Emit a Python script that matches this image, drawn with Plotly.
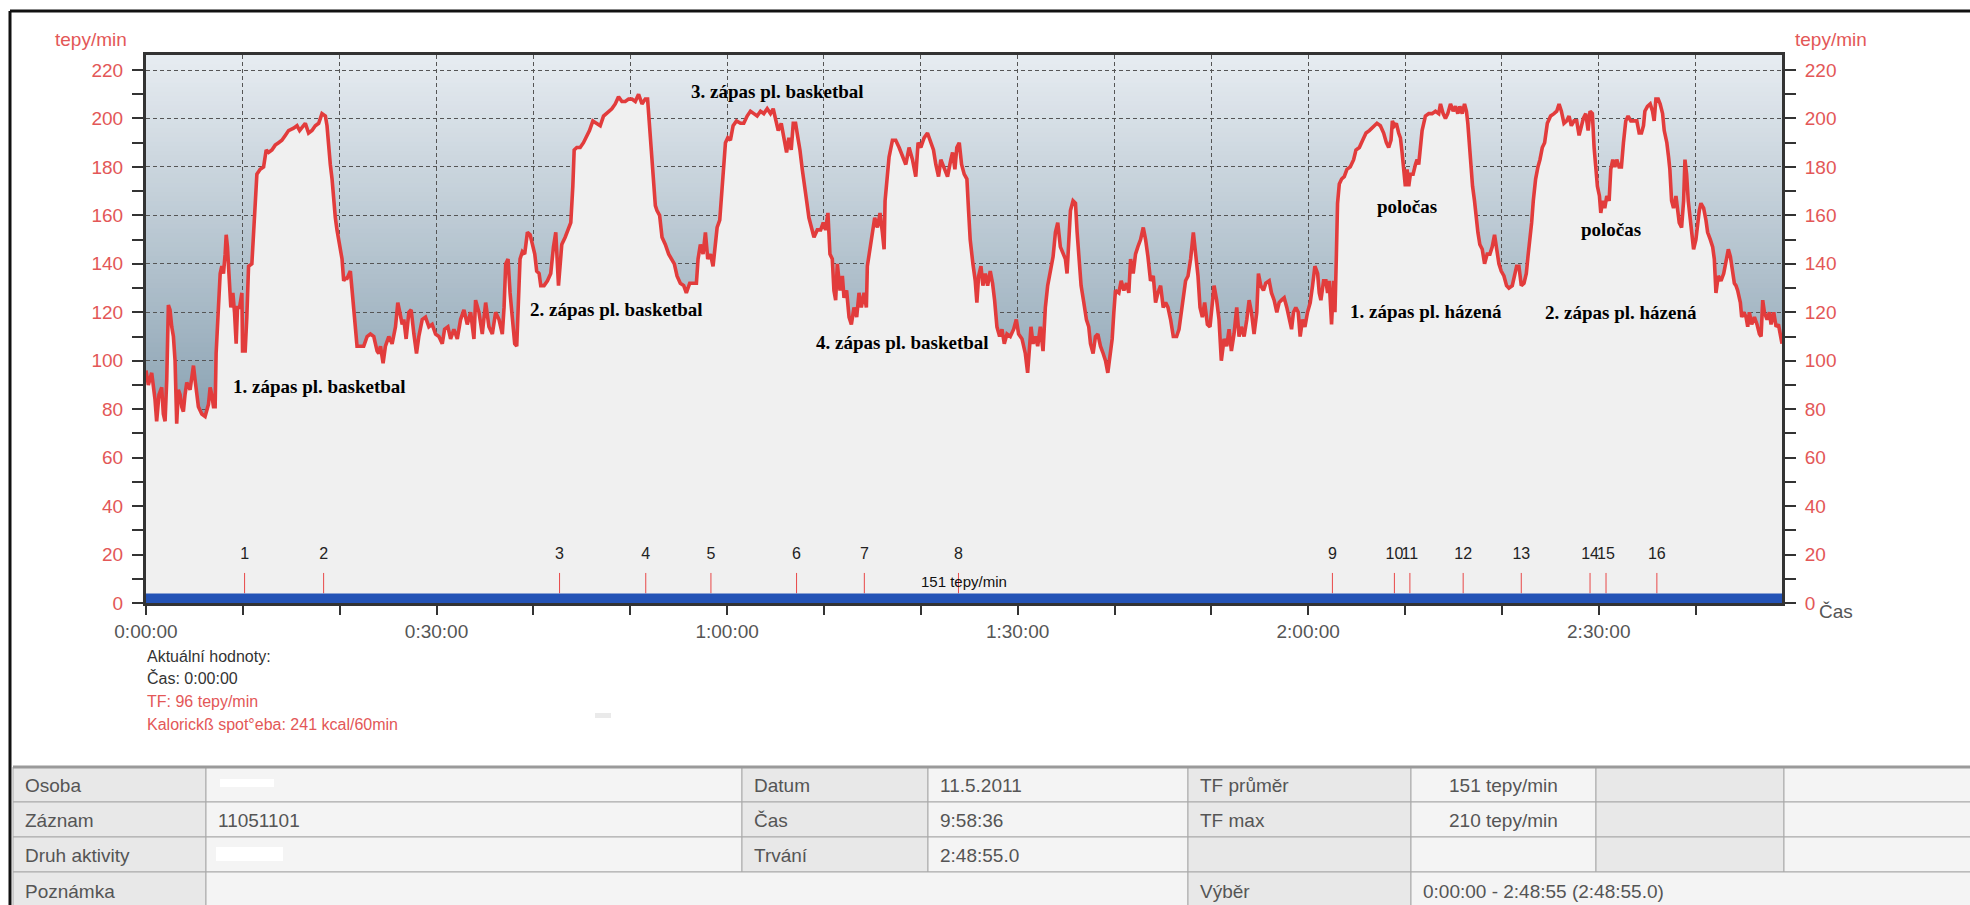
import plotly.graph_objects as go

# ---------------------------------------------------------------- data
# Heart rate record: minute offset from start and beats per minute
minutes = [
    0.0, 0.24, 0.59, 0.93, 1.10, 1.34, 1.62, 1.79, 1.97, 2.14, 2.31, 2.48, 2.66, 2.83, 3.00, 3.17, 3.34, 3.52, 3.69, 3.86,
    4.03, 4.21, 4.55, 4.90, 5.07, 5.24, 5.41, 5.76, 6.10, 6.45, 6.62, 6.79, 6.97, 7.14, 7.24, 7.48, 7.66, 7.83, 8.00, 8.17,
    8.28, 8.41, 8.59, 8.76, 8.97, 9.14, 9.31, 9.45, 9.66, 9.90, 9.97, 10.24, 10.41, 10.59, 10.93, 11.10, 11.28, 11.45, 11.79, 12.14,
    12.41, 12.66, 13.00, 13.34, 13.69, 14.03, 14.38, 14.72, 15.24, 15.59, 15.86, 16.10, 16.45, 16.79, 17.14, 17.48, 17.83, 18.17, 18.52, 18.69,
    18.86, 19.03, 19.21, 19.38, 19.55, 19.72, 19.90, 20.07, 20.24, 20.41, 20.59, 20.76, 20.93, 21.10, 21.28, 21.45, 21.62, 21.79, 22.14, 22.48,
    22.83, 23.17, 23.52, 23.86, 24.03, 24.21, 24.48, 24.72, 25.07, 25.41, 25.76, 26.00, 26.21, 26.45, 26.62, 26.86, 27.14, 27.38, 27.66, 27.93,
    28.17, 28.52, 28.86, 29.21, 29.55, 29.90, 30.24, 30.59, 30.83, 31.17, 31.45, 31.79, 32.14, 32.48, 32.83, 33.17, 33.52, 33.86, 34.03, 34.38,
    34.72, 35.07, 35.41, 35.76, 36.10, 36.45, 36.79, 36.97, 37.14, 37.38, 37.59, 37.83, 38.07, 38.28, 38.45, 38.62, 38.86, 39.10, 39.38, 39.66,
    39.90, 40.14, 40.34, 40.59, 40.76, 41.10, 41.45, 41.79, 42.07, 42.31,
    42.59, 42.93, 43.28, 43.62, 43.86, 44.07, 44.21, 44.48, 44.83, 45.17, 45.45, 45.79, 46.14, 46.55, 46.90, 47.24, 47.76, 48.10, 48.45, 48.79,
    49.14, 49.48, 49.83, 50.17, 50.52, 50.86, 51.21, 51.55, 51.79, 52.00, 52.17, 52.41, 52.59, 52.76, 53.03, 53.28, 53.62, 53.97, 54.31, 54.55,
    54.83, 55.17, 55.52, 55.79, 56.14, 56.48, 56.83, 57.00, 57.24, 57.52, 57.76, 58.00, 58.28, 58.55, 58.79, 58.97, 59.24, 59.48, 59.66, 59.83,
    60.07, 60.34, 60.62, 60.97, 61.38, 61.72, 62.07, 62.41, 62.76, 63.10, 63.45, 63.79, 64.14, 64.48, 64.76, 65.00, 65.28, 65.59, 65.86, 66.14,
    66.38, 66.62, 66.83, 67.07, 67.31, 67.52, 67.76, 68.00, 68.21, 68.45, 68.79, 68.97, 69.31, 69.66, 69.93, 70.17, 70.41, 70.62, 70.86, 71.03,
    71.21, 71.38, 71.66, 71.90, 72.07, 72.34, 72.59, 72.83, 73.10, 73.38, 73.62, 73.86, 74.14, 74.38, 74.48, 74.76, 75.00, 75.24, 75.52, 75.79,
    76.03, 76.21, 76.31, 76.48, 76.72, 77.07, 77.41, 77.76, 78.10, 78.45, 78.79, 79.14, 79.48, 79.72, 80.00, 80.34, 80.69, 80.97, 81.31, 81.55,
    81.83, 82.07, 82.41, 82.76, 83.10, 83.28, 83.52, 83.72, 83.97, 84.21, 84.48, 84.76,
    84.93, 85.10, 85.38, 85.62, 85.79, 85.97, 86.21, 86.41, 86.66, 86.90, 87.17, 87.41, 87.62, 87.86, 88.14, 88.38, 88.62, 88.90, 89.24, 89.59,
    89.86, 90.10, 90.45, 90.79, 91.03, 91.24, 91.38, 91.59, 91.83, 92.07, 92.34, 92.62, 92.86, 93.10, 93.38, 93.66, 93.90, 94.14, 94.41, 94.69,
    94.93, 95.10, 95.28, 95.45, 95.72, 95.97, 96.14, 96.31, 96.55, 96.83, 97.10, 97.34, 97.52, 97.79, 98.03, 98.28, 98.55, 98.83, 99.07, 99.31,
    99.52, 99.76, 99.93, 100.10, 100.45, 100.69, 100.97, 101.24, 101.48, 101.66, 101.93, 102.17, 102.41, 102.69, 102.97, 103.21, 103.45, 103.72, 104.00, 104.24,
    104.48, 104.76, 105.03, 105.28, 105.52, 105.79, 106.07, 106.41, 106.66, 106.90, 107.10, 107.34, 107.59, 107.86, 108.14, 108.38, 108.62, 108.83, 109.07, 109.31,
    109.59, 109.86, 110.10, 110.28, 110.55, 110.79, 111.03, 111.31, 111.59, 111.83, 112.07, 112.34, 112.62, 112.86, 113.10, 113.38, 113.66, 113.90, 114.14, 114.41,
    114.69, 114.86, 115.10, 115.38, 115.62, 115.97, 116.21, 116.48, 116.76, 117.00, 117.24, 117.52, 117.79, 118.03, 118.28, 118.48, 118.72, 118.97, 119.17, 119.41,
    119.66, 119.93, 120.21, 120.45, 120.69, 120.97, 121.14, 121.31, 121.59, 121.83, 122.00, 122.17, 122.41, 122.62, 122.76, 122.90, 123.03, 123.21, 123.45, 123.72,
    124.00, 124.34, 124.69, 124.93, 125.28, 125.62, 125.97, 126.31,
    126.76, 127.10, 127.45, 127.79, 128.07, 128.31, 128.55, 128.69, 128.90, 129.10, 129.34, 129.52, 129.69, 129.86, 130.03, 130.21, 130.38, 130.55, 130.83, 131.07,
    131.24, 131.41, 131.59, 131.76, 131.93, 132.10, 132.45, 132.79, 133.14, 133.48, 133.66, 133.93, 134.17, 134.41, 134.69, 134.97, 135.21, 135.45, 135.66, 135.90,
    136.14, 136.34, 136.48, 136.66, 136.83, 136.97, 137.17, 137.34, 137.52, 137.72, 137.97, 138.21, 138.48, 138.76, 139.00, 139.24, 139.45, 139.69, 139.93, 140.21,
    140.48, 140.72, 141.07, 141.31, 141.52, 141.76, 142.00, 142.28, 142.52, 142.69, 142.90, 143.07, 143.24, 143.48, 143.72, 143.93, 144.17, 144.41, 144.69, 145.03,
    145.38, 145.66, 145.90, 146.14, 146.41, 146.69, 146.93, 147.17, 147.45, 147.72, 147.97, 148.21, 148.41, 148.66, 148.90, 149.10, 149.34, 149.52, 149.69, 149.86,
    150.07, 150.21, 150.41, 150.62, 150.83, 151.07, 151.24, 151.45, 151.66, 151.86, 152.10, 152.34, 152.55, 152.79, 153.03, 153.31, 153.66, 153.93, 154.17, 154.41,
    154.62, 154.76, 155.03, 155.31, 155.55, 155.72, 155.90, 156.14, 156.34, 156.59, 156.76, 157.03, 157.21, 157.34, 157.52, 157.72, 157.97, 158.14, 158.31, 158.55,
    158.76, 158.90, 159.07, 159.24, 159.45, 159.62, 159.79, 160.03, 160.21, 160.38, 160.55, 160.83, 161.07, 161.24, 161.52, 161.76, 161.93, 162.10, 162.34, 162.62,
    162.90, 163.14, 163.38, 163.59, 163.83, 164.00, 164.17, 164.34, 164.62, 164.76, 164.97, 165.21, 165.38, 165.55, 165.79, 166.07, 166.34, 166.59, 166.76, 166.93,
    167.10, 167.38, 167.62, 167.79, 168.07, 168.31, 168.55, 168.76, 168.92,
]
bpm = [
    96, 90, 95, 84, 75, 86, 89, 78, 75, 92, 123, 121, 114, 110, 100, 74, 88, 86, 81, 79,
    86, 91, 88, 98, 92, 86, 81, 78, 77, 82, 89, 86, 81, 81, 103, 122, 136, 139, 136, 144,
    152, 147, 133, 122, 128, 120, 107, 122, 122, 128, 104, 104, 118, 139, 140, 153, 166, 177, 179, 180,
    187, 186, 187, 189, 190, 191, 193, 195, 196, 197, 195, 196, 198, 194, 195, 197, 198, 202, 201, 197,
    188, 181, 175, 166, 159, 154, 150, 146, 142, 133, 134, 134, 136, 137, 129, 121, 117, 106, 106, 106,
    110, 111, 110, 104, 103, 106, 99, 106, 110, 107, 114, 124, 120, 115, 117, 109, 120, 121, 111, 103,
    110, 117, 118, 114, 115, 111, 110, 107, 113, 114, 109, 113, 109, 117, 121, 115, 120, 109, 125, 120,
    111, 124, 114, 111, 120, 117, 111, 122, 140, 142, 128, 115, 107, 106, 122, 142, 145, 144, 153, 152,
    148, 144, 137, 136, 131, 131, 133, 136, 147, 153,
    131, 148, 151, 154, 157, 172, 187, 188, 188, 190, 192, 195, 199, 198, 197, 201, 203, 204, 206, 209,
    207, 207, 208, 208, 207, 210, 206, 208, 208, 197, 187, 177, 164, 162, 160, 151, 148, 144, 142, 140,
    135, 132, 131, 128, 132, 132, 132, 142, 148, 144, 153, 142, 144, 139, 147, 155, 158, 170, 183, 190,
    192, 191, 197, 199, 198, 198, 201, 203, 202, 201, 203, 202, 204, 202, 204, 199, 195, 198, 191, 186,
    192, 187, 198, 198, 192, 187, 179, 173, 166, 159, 154, 151, 154, 154, 157, 154, 161, 144, 142, 129,
    125, 140, 129, 135, 126, 129, 118, 115, 122, 118, 128, 122, 128, 122, 139, 147, 153, 159, 155, 161,
    153, 146, 166, 175, 184, 191, 191, 188, 184, 181, 188, 183, 176, 190, 188, 192, 194, 191, 187, 181,
    176, 183, 179, 176, 183, 186, 179, 188, 190, 181, 177, 175,
    162, 150, 140, 133, 124, 135, 139, 131, 136, 131, 137, 132, 125, 114, 110, 113, 107, 111, 110, 113,
    117, 111, 109, 103, 95, 106, 114, 107, 110, 106, 114, 104, 122, 131, 137, 143, 153, 157, 147, 144,
    142, 136, 150, 162, 166, 165, 153, 142, 131, 124, 117, 114, 107, 103, 110, 111, 106, 103, 100, 95,
    103, 109, 120, 129, 128, 133, 129, 132, 128, 142, 136, 144, 147, 150, 155, 150, 143, 133, 135, 124,
    128, 131, 122, 124, 122, 117, 110, 110, 113, 120, 125, 133, 135, 142, 153, 144, 135, 122, 118, 124,
    115, 114, 122, 131, 125, 117, 100, 109, 106, 113, 104, 111, 122, 110, 114, 110, 117, 125, 120, 111,
    120, 136, 131, 129, 132, 133, 128, 125, 120, 124, 125, 126, 122, 118, 113, 120, 122, 120, 110, 117,
    114, 120, 124, 131, 139, 136, 128, 125, 133, 133, 128, 133, 115, 133, 120, 142, 165, 173, 175, 176,
    179, 180, 183, 187, 188, 191, 194, 195,
    197, 198, 197, 194, 190, 188, 191, 199, 197, 198, 194, 192, 186, 179, 172, 179, 172, 177, 177, 181,
    183, 181, 190, 195, 198, 201, 202, 202, 203, 202, 206, 202, 200, 202, 206, 203, 205, 202, 205, 202,
    206, 203, 198, 188, 179, 172, 166, 158, 153, 148, 146, 140, 144, 144, 147, 152, 147, 140, 137, 135,
    131, 130, 131, 135, 139, 139, 131, 132, 136, 143, 150, 157, 166, 175, 180, 183, 188, 190, 198, 201,
    202, 203, 206, 203, 198, 199, 201, 197, 199, 199, 193, 197, 200, 202, 195, 203, 202, 188, 179, 172,
    168, 161, 166, 163, 168, 166, 179, 183, 180, 183, 180, 180, 190, 199, 201, 199, 199, 199, 194, 194,
    197, 203, 205, 206, 203, 199, 208, 208, 206, 202, 195, 190, 184, 179, 166, 163, 168, 162, 157, 155,
    166, 183, 177, 166, 158, 153, 146, 150, 158, 162, 165, 163, 158, 153, 150, 147, 142, 128, 135, 133,
    136, 142, 146, 143, 137, 132, 131, 129, 124, 118, 120, 118, 114, 120, 115, 118, 115, 111, 110, 125,
    120, 117, 120, 115, 120, 114, 115, 111, 107,
]

# Numbered lap marks
lap_labels = ["1", "2", "3", "4", "5", "6", "7", "8", "9", "10", "11", "12", "13", "14", "15", "16"]
lap_minutes = [10.18, 18.34, 42.70, 51.6, 58.33, 67.17, 74.17, 83.89,
               122.5, 128.9, 130.5, 136.0, 142.0, 149.1, 150.75, 156.0]

# Named segments of the session
segment_texts = ["1. zápas pl. basketbal", "2. zápas pl. basketbal", "3. zápas pl. basketbal",
                 "4. zápas pl. basketbal", "poločas", "1. zápas pl. házená", "poločas",
                 "2. zápas pl. házená"]
segment_minutes = [8.8, 39.4, 56.1, 69.0, 126.9, 124.1, 148.0, 144.2]
segment_bpm = [89.3, 121.0, 211.3, 107.4, 163.6, 120.2, 154.1, 119.8]

# Axes
duration_min = 168.92
x_tick_minutes = [0, 10, 20, 30, 40, 50, 60, 70, 80, 90, 100, 110, 120, 130, 140, 150, 160]
x_tick_text = ["0:00:00", "", "", "0:30:00", "", "", "1:00:00", "", "", "1:30:00", "", "",
               "2:00:00", "", "", "2:30:00", ""]
y_tick_values = [0, 20, 40, 60, 80, 100, 120, 140, 160, 180, 200, 220]
mean_label = "151 tepy/min"

# Summary text below the chart
info_lines = ["Aktuální hodnoty:", "Čas: 0:00:00", "TF: 96 tepy/min",
              "Kalorickß spot°eba: 241 kcal/60min"]

# Summary table
table_rows = [
    ["Osoba", "", "Datum", "11.5.2011", "TF průměr", "151 tepy/min", "", ""],
    ["Záznam", "11051101", "Čas", "9:58:36", "TF max", "210 tepy/min", "", ""],
    ["Druh aktivity", "", "Trvání", "2:48:55.0", "", "", "", ""],
]
note_row = ["Poznámka", "", "Výběr", "0:00:00 - 2:48:55 (2:48:55.0)"]

# ---------------------------------------------------------------- styling
W, H = 1970, 905
L, R, T, B = 146, 1782, 55, 603
Y_TOP = 226.2
RED = "#e23c3c"
LABEL_RED = "#e35757"
SANS = "Liberation Sans"
SERIF = "Liberation Serif"


def px(x):
    return (x - L) / (R - L)


def py(y):
    return (B - y) / (B - T)


fig = go.Figure()

# area under the heart-rate curve plus the curve itself
fig.add_trace(go.Scatter(
    x=minutes, y=bpm, mode="lines", fill="tozeroy", fillcolor="#f0f0f0",
    line=dict(color=RED, width=3.6), hoverinfo="skip", showlegend=False))

# lap marks
lx, ly = [], []
for m in lap_minutes:
    lx += [m, m, None]
    ly += [4.0, 12.4, None]
fig.add_trace(go.Scatter(x=lx, y=ly, mode="lines", line=dict(color="#e84848", width=1),
                         hoverinfo="skip", showlegend=False))
fig.add_trace(go.Scatter(x=lap_minutes, y=[20] * len(lap_minutes), mode="text", text=lap_labels,
                         textfont=dict(family=SANS, size=16, color="#222"),
                         textposition="middle center", hoverinfo="skip", showlegend=False))

# right-hand axis carrier
fig.add_trace(go.Scatter(x=[0], y=[0], yaxis="y2", mode="markers", marker=dict(opacity=0),
                         hoverinfo="skip", showlegend=False))

shapes = []
# vertical background gradient of the plot area: stacked bands, each reaching
# to the top so that the next band hides the previous one's upper edge
top_c = (231, 236, 241)
bot_c = (92, 125, 147)
n_bands = 120
for i in range(n_bands):
    y0 = Y_TOP * i / n_bands
    t = (y0 + Y_TOP / n_bands / 2) / Y_TOP
    c = tuple(round(bot_c[k] + (top_c[k] - bot_c[k]) * t) for k in range(3))
    shapes.append(dict(type="rect", xref="paper", yref="y", x0=0, x1=1, y0=y0, y1=Y_TOP,
                       fillcolor="rgb(%d,%d,%d)" % c, line=dict(width=0), layer="below"))

# blue baseline band
shapes.append(dict(type="rect", xref="paper", yref="y", x0=0, x1=1, y0=0, y1=3.9,
                   fillcolor="#2453b6", line=dict(width=0), layer="above"))

# outer frame
shapes.append(dict(type="line", xref="paper", yref="paper", x0=px(10), x1=px(W + 5),
                   y0=py(11), y1=py(11), line=dict(color="#111", width=3)))
shapes.append(dict(type="line", xref="paper", yref="paper", x0=px(10), x1=px(10),
                   y0=py(11), y1=py(H + 5), line=dict(color="#111", width=3)))

# small grey patch next to the info block
shapes.append(dict(type="rect", xref="paper", yref="paper", x0=px(595), x1=px(611),
                   y0=py(713), y1=py(718), fillcolor="#eaeaea", line=dict(width=0)))

annotations = []

# segment names inside the plot
for txt, xm, yv in zip(segment_texts, segment_minutes, segment_bpm):
    annotations.append(dict(x=xm, y=yv, xref="x", yref="y", text="<b>%s</b>" % txt,
                            showarrow=False, xanchor="left", yanchor="middle",
                            font=dict(family=SERIF, size=19, color="#000")))

annotations.append(dict(x=duration_min / 2, y=8.8, xref="x", yref="y", text=mean_label,
                        showarrow=False, xanchor="center", yanchor="middle",
                        font=dict(family=SANS, size=15, color="#111")))

# axis captions
annotations.append(dict(x=px(91), y=py(40), xref="paper", yref="paper", text="tepy/min",
                        showarrow=False, xanchor="center", yanchor="middle",
                        font=dict(family=SANS, size=19, color=LABEL_RED)))
annotations.append(dict(x=px(1831), y=py(40), xref="paper", yref="paper", text="tepy/min",
                        showarrow=False, xanchor="center", yanchor="middle",
                        font=dict(family=SANS, size=19, color=LABEL_RED)))
annotations.append(dict(x=px(1817), y=py(611), xref="paper", yref="paper", text="Čas",
                        showarrow=False, xanchor="left", yanchor="middle",
                        font=dict(family=SANS, size=19, color="#555")))

# info block
info_y = [656, 678, 701, 724]
info_col = ["#333", "#333", LABEL_RED, LABEL_RED]
for txt, yy, cc in zip(info_lines, info_y, info_col):
    annotations.append(dict(x=px(145), y=py(yy), xref="paper", yref="paper", text=txt,
                            showarrow=False, xanchor="left", yanchor="middle",
                            font=dict(family=SANS, size=16, color=cc)))

# summary table
col_edges = [13, 206, 742, 928, 1188, 1411, 1596, 1784, 1975]
row_edges = [767, 802, 837, 872, 910]
DARK, LIGHT, GRID = "#e8e8e8", "#f4f4f4", "#a9a9a9"
table_font = dict(family=SANS, size=19, color="#555")


def cell(x0, x1, y0, y1, fill):
    shapes.append(dict(type="rect", xref="paper", yref="paper", x0=px(x0), x1=px(x1),
                       y0=py(y0), y1=py(y1), fillcolor=fill, line=dict(color=GRID, width=1)))


def cell_text(txt, x0, x1, y0, y1, centred=False):
    if not txt:
        return
    annotations.append(dict(x=px((x0 + x1) / 2 if centred else x0 + 10), y=py((y0 + y1) / 2 + 1),
                            xref="paper", yref="paper", text=txt, showarrow=False,
                            xanchor="center" if centred else "left", yanchor="middle",
                            font=table_font))


for r, row in enumerate(table_rows):
    y0, y1 = row_edges[r], row_edges[r + 1]
    for c, txt in enumerate(row):
        x0, x1 = col_edges[c], col_edges[c + 1]
        cell(x0, x1, y0, y1, DARK if c % 2 == 0 else LIGHT)
        cell_text(txt, x0, x1, y0, y1, centred=(c == 5))

y0, y1 = row_edges[3], row_edges[4]
spans = [(0, 1, DARK), (1, 4, LIGHT), (4, 5, DARK), (5, 8, LIGHT)]
for (a, b, fill), txt in zip(spans, note_row):
    cell(col_edges[a], col_edges[b], y0, y1, fill)
    cell_text(txt, col_edges[a], col_edges[b], y0, y1)

# heavier rule along the top of the table
shapes.append(dict(type="line", xref="paper", yref="paper", x0=px(13), x1=px(W + 5),
                   y0=py(767), y1=py(767), line=dict(color="#9a9a9a", width=3)))

# redacted entries
shapes.append(dict(type="rect", xref="paper", yref="paper", x0=px(220), x1=px(274),
                   y0=py(779), y1=py(787), fillcolor="#fff", line=dict(width=0)))
shapes.append(dict(type="rect", xref="paper", yref="paper", x0=px(216), x1=px(283),
                   y0=py(847), y1=py(861), fillcolor="#fff", line=dict(width=0)))

grid_style = dict(gridcolor="#555555", gridwidth=1, griddash="4px,3px")
y_common = dict(range=[0, Y_TOP], tickmode="array", tickvals=y_tick_values,
                ticks="outside", ticklen=11, tickwidth=2, tickcolor="#333",
                minor=dict(dtick=10, tick0=0, ticks="outside", ticklen=11, tickwidth=2,
                           tickcolor="#333", showgrid=False),
                showline=True, linecolor="#333", linewidth=3, zeroline=False,
                tickfont=dict(family=SANS, size=19, color=LABEL_RED), ticklabelstandoff=5,
                fixedrange=True)

fig.update_layout(
    width=W, height=H,
    margin=dict(l=L, r=W - R, t=T, b=H - B, pad=0),
    paper_bgcolor="white", plot_bgcolor="white",
    showlegend=False,
    xaxis=dict(range=[0, duration_min], tickmode="array", tickvals=x_tick_minutes,
               ticktext=x_tick_text, ticks="outside", ticklen=9, tickwidth=2, tickcolor="#333",
               showline=True, linecolor="#333", linewidth=3, mirror=True, zeroline=False,
               showgrid=True, tickfont=dict(family=SANS, size=19, color="#555"),
               fixedrange=True, **grid_style),
    yaxis=dict(showgrid=True, **grid_style, **y_common),
    yaxis2=dict(overlaying="y", side="right", showgrid=False, **y_common),
    shapes=shapes,
    annotations=annotations,
)

fig.write_html("out.html")
